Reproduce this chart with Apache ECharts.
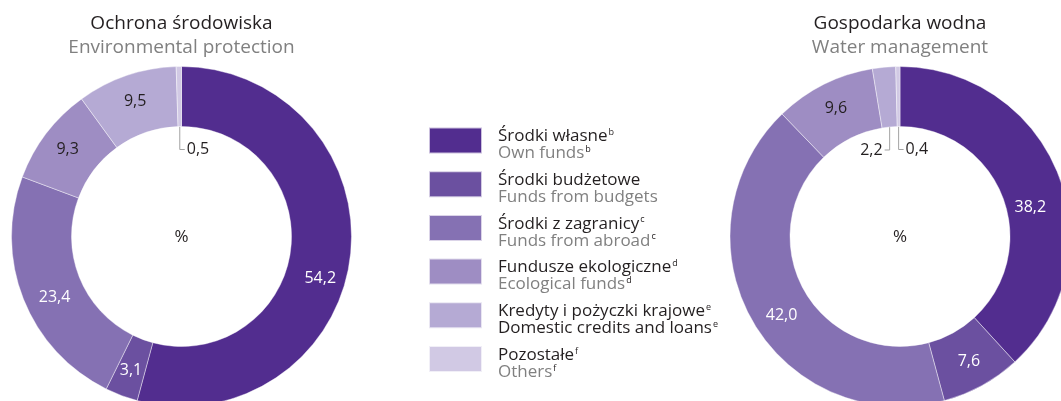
<!DOCTYPE html>
<html>
<head>
<meta charset="utf-8">
<script src="https://cdn.jsdelivr.net/npm/echarts@6/dist/echarts.min.js"></script>
<style>
  html, body { margin: 0; padding: 0; background: #fff; }
  #chart { width: 1061px; height: 401px; }
</style>
</head>
<body>
<div id="chart"></div>
<script>
// dane
const categories = ['Środki własne', 'Środki budżetowe', 'Środki z zagranicy', 'Fundusze ekologiczne', 'Kredyty i pożyczki krajowe', 'Pozostałe']
const categoriesEn = ['Own funds', 'Funds from budgets', 'Funds from abroad', 'Ecological funds', 'Domestic credits and loans', 'Others']
const footnotes = ['b', '', 'c', 'd', 'e', 'f']
const envValues = [54.2, 3.1, 23.4, 9.3, 9.5, 0.5]
const waterValues = [38.2, 7.6, 42.0, 9.6, 2.2, 0.4]

const colors = ['#522d8f', '#6b50a0', '#8571b3', '#9e8dc3', '#b5aad4', '#d1c9e4']
const FONT = '"Open Sans", sans-serif'
const DARK = '#231f20'
const GREY = '#808080'

const R_IN = 110
const R_OUT = 170
const CY = 236.5
const LEFT_CX = 181.5
const RIGHT_CX = 900

// przesuniecia etykiet wewnetrznych (jak w oryginale)
const labelShift = { 0: [-3, 23], 2: [6, 8] }

const fmt = v => v.toFixed(1).replace('.', ',')

// male wycinki - etykieta z linia do srodka
const makeLayout = (values, cx) => p => {
  const i = p.dataIndex
  const v = values[i]
  if (v >= 3) {
    const s = labelShift[i]
    return s ? { dx: s[0], dy: s[1] } : {}
  }
  const total = values.reduce((a, b) => a + b, 0)
  const before = values.slice(0, i).reduce((a, b) => a + b, 0)
  const a = (before + v / 2) / total * Math.PI * 2
  const x0 = cx + R_IN * Math.sin(a)
  const y0 = CY - R_IN * Math.cos(a)
  const y1 = y0 + 23
  const dir = i === values.length - 1 ? 1 : -1
  const x1 = x0 + dir * 5
  return {
    x: x1 + dir * 2,
    y: y1,
    align: dir > 0 ? 'left' : 'right',
    verticalAlign: 'middle',
    labelLinePoints: [[x0, y0], [x0, y1], [x1, y1]]
  }
}

const makeData = values => values.map((v, i) => {
  const small = v < 3
  return {
    name: categories[i],
    value: v,
    label: small
      ? { position: 'outside', color: DARK }
      : { position: 'inside', color: i < 3 ? '#fff' : DARK },
    labelLine: { show: small, length: 5, length2: 5, lineStyle: { color: '#a3a3a3', width: 1 } }
  }
})

const makeSeries = (values, cx) => ({
  type: 'pie',
  center: [cx, CY],
  radius: [R_IN, R_OUT],
  startAngle: 90,
  clockwise: true,
  avoidLabelOverlap: false,
  emphasis: { disabled: true },
  itemStyle: { borderColor: 'rgba(255,255,255,0.7)', borderWidth: 0.6 },
  label: {
    show: true,
    fontFamily: FONT,
    fontSize: 16,
    formatter: p => fmt(p.value)
  },
  labelLayout: makeLayout(values, cx),
  data: makeData(values)
})

const chart = echarts.init(document.getElementById('chart'))

const titleStyle = { fontFamily: FONT, fontSize: 19, fontWeight: 'normal', color: DARK }
const subStyle = { fontFamily: FONT, fontSize: 19, color: GREY }
const pctStyle = { fontFamily: FONT, fontSize: 17, fontWeight: 'normal', color: DARK }

chart.setOption({
  animation: false,
  color: colors,
  title: [
    { text: 'Ochrona środowiska', subtext: 'Environmental protection', left: LEFT_CX, top: 14, textAlign: 'center', padding: 0, itemGap: 5, textStyle: titleStyle, subtextStyle: subStyle },
    { text: 'Gospodarka wodna', subtext: 'Water management', left: RIGHT_CX, top: 14, textAlign: 'center', padding: 0, itemGap: 5, textStyle: titleStyle, subtextStyle: subStyle },
    { text: '%', left: LEFT_CX, top: 229, textAlign: 'center', padding: 0, textStyle: pctStyle },
    { text: '%', left: RIGHT_CX, top: 229, textAlign: 'center', padding: 0, textStyle: pctStyle }
  ],
  legend: {
    orient: 'vertical',
    left: 428,
    top: 126.5,
    padding: 0,
    itemWidth: 53,
    itemHeight: 26,
    itemGap: 8.2,
    icon: 'rect',
    selectedMode: false,
    data: categories,
    formatter: name => {
      const i = categories.indexOf(name)
      const sup = footnotes[i]
      const en = i === 4 ? 'enDark' : 'en'
      return `{pl|${name}}{sup|${sup}}\n{${en}|${categoriesEn[i]}}{sup|${sup}}`
    },
    textStyle: {
      fontFamily: FONT,
      padding: [9, 0, 0, 11],
      rich: {
        pl: { fontFamily: FONT, fontSize: 17, color: DARK, lineHeight: 17 },
        en: { fontFamily: FONT, fontSize: 17, color: GREY, lineHeight: 17 },
        enDark: { fontFamily: FONT, fontSize: 17, color: DARK, lineHeight: 17 },
        sup: { fontFamily: FONT, fontSize: 9, color: DARK, verticalAlign: 'top', lineHeight: 17, padding: [0, 0, 7, 1] }
      }
    }
  },
  series: [
    makeSeries(envValues, LEFT_CX),
    makeSeries(waterValues, RIGHT_CX)
  ]
})
</script>
</body>
</html>
